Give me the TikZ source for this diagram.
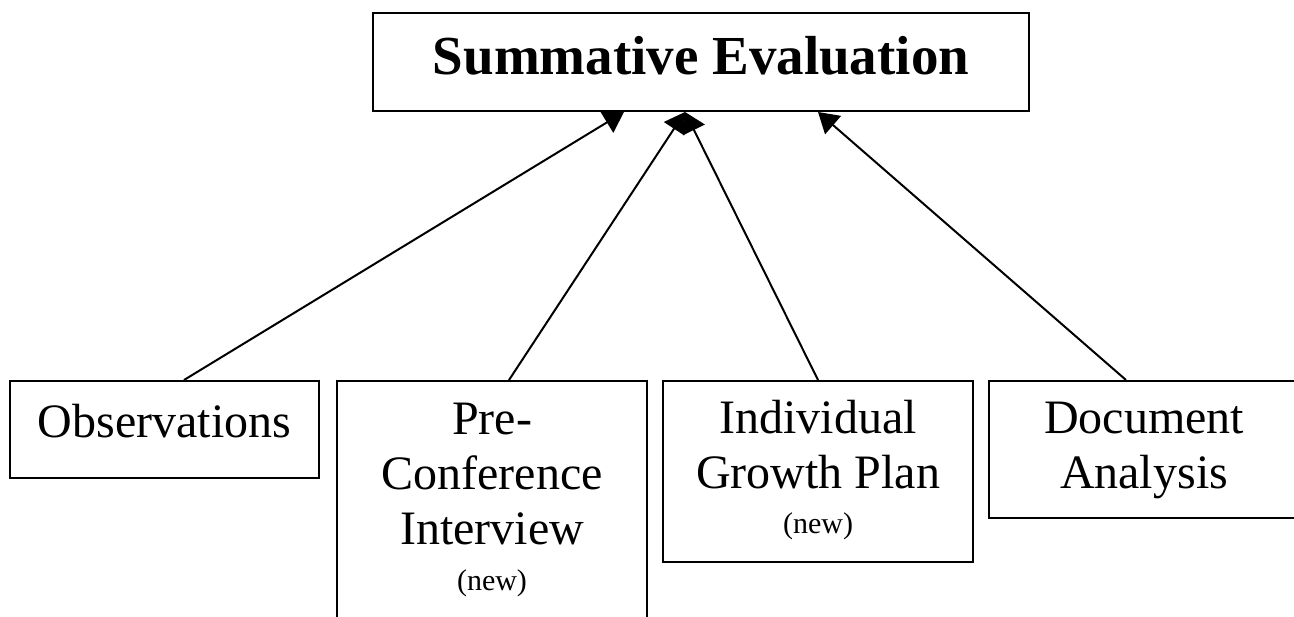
\documentclass[tikz,border=0pt]{standalone}
\usepackage{fontspec}
\setmainfont{Liberation Serif}
\usetikzlibrary{arrows.meta}
\begin{document}
\begin{tikzpicture}[x=0.5pt, y=-0.5pt,
        box/.style={draw, line width=1pt, fill=white, anchor=north west, inner sep=0pt, align=flush center,
            text width=155pt, text height=26pt, font=\fontsize{24}{27.5}\selectfont},
        feed/.style={line width=1pt, -{Triangle[length=10pt, width=12pt]}}]
        \useasboundingbox (0,0) rectangle (1294,616);
        \node[box, text width=328pt, text height=30.5pt, text depth=18.5pt,
            font=\bfseries\fontsize{27.5}{32}\selectfont] (summ) at (372,12) {Summative Evaluation};
        \node[box, text width=154.5pt, text height=28pt, text depth=20.5pt] (obs) at (9,380) {Observations};
        \node[box, text height=26.5pt, text depth=103.5pt] (pci) at (336,380)
            {Pre-\\Conference\\Interview\\[-4.5pt]{\fontsize{15}{18}\selectfont (new)}};
        \node[box, text depth=64.5pt] (igp) at (662,380)
            {Individual\\Growth Plan\\[-5pt]{\fontsize{15}{18}\selectfont (new)}};
        \node[box, text depth=42.5pt] (doc) at (988,380) {Document\\Analysis};
        \draw[feed] ([xshift=9.75pt]obs.north) -- ([xshift=-38.5pt]summ.south);
        \draw[feed] ([xshift=8.5pt]pci.north) -- ([xshift=-8pt]summ.south);
        \draw[feed] (igp.north) -- ([xshift=-8pt]summ.south);
        \draw[feed] ([xshift=-9pt]doc.north) -- ([xshift=58.5pt]summ.south);
    \end{tikzpicture}
\end{document}
